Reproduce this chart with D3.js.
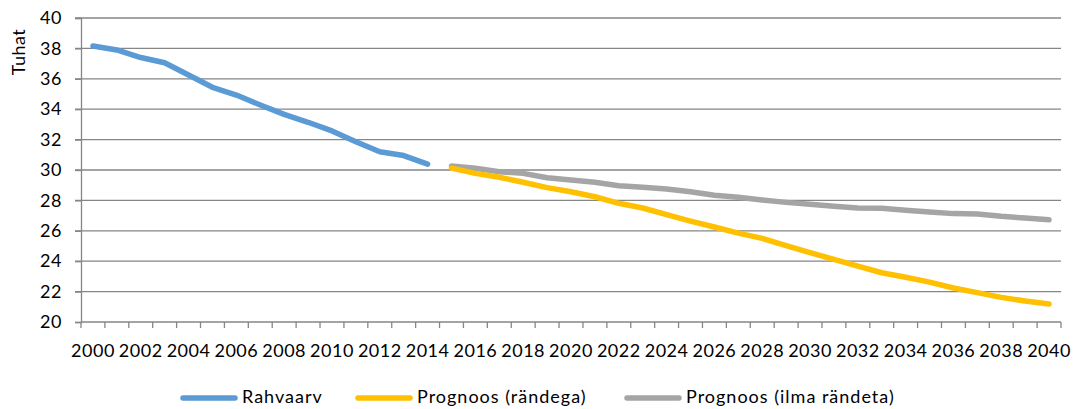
<!DOCTYPE html>
<html><head><meta charset="utf-8">
<script src="https://cdn.jsdelivr.net/npm/d3@7"></script>
<style>body{margin:0;background:#fff}svg{display:block}text{font-family:Lato,"Open Sans",sans-serif;fill:#000}</style>
</head><body>
<svg id="c" width="1075" height="409"></svg>
<script>
const years = d3.range(2000, 2041);
const yTicks = [20,22,24,26,28,30,32,34,36,38,40];
const xTickLabels = d3.range(2000, 2041, 2);
const rahvaarvYears = d3.range(2000, 2015);
const rahvaarv = [38.16,37.9,37.4,37.06,36.25,35.44,34.93,34.28,33.66,33.14,32.57,31.86,31.2,30.95,30.39];
const progYears = d3.range(2015, 2041);
const prognoosRandega = [30.12,29.78,29.52,29.19,28.84,28.57,28.24,27.81,27.5,27.06,26.64,26.25,25.85,25.5,25.02,24.56,24.12,23.68,23.24,22.94,22.62,22.24,21.93,21.62,21.38,21.18];
const prognoosIlma = [30.26,30.11,29.89,29.78,29.49,29.34,29.19,28.97,28.86,28.75,28.57,28.34,28.2,28.03,27.87,27.74,27.61,27.5,27.48,27.35,27.24,27.13,27.1,26.95,26.84,26.73];
const seriesNames = ["Rahvaarv","Prognoos (rändega)","Prognoos (ilma rändeta)"];
const colors = ["#5B9BD5","#FFC000","#A5A5A5"];

const svg = d3.select("#c");
const L=81, R=1061, T=18, B=322;
const FS = "18px";
const x = d3.scaleBand().domain(years).range([L,R]);
const y = d3.scaleLinear().domain([20,40]).range([B,T]);
const grid = "#868686";

// gridlines
svg.append("g").selectAll("line").data(yTicks.filter(v=>v>20)).join("line")
  .attr("x1",L-6).attr("x2",R).attr("y1",d=>y(d)).attr("y2",d=>y(d))
  .attr("stroke",grid).attr("stroke-width",1.3);

// y axis
const ya = svg.append("g").attr("transform",`translate(${L},0)`)
  .call(d3.axisLeft(y).tickValues(yTicks).tickSize(6).tickPadding(13));
ya.select(".domain").attr("stroke",grid).attr("stroke-width",1.3);
ya.selectAll(".tick line").attr("stroke",grid).attr("stroke-width",1.3);
ya.selectAll("text").style("font-size",FS).style("font-family","Lato").style("letter-spacing","0.5px");

// x axis
const xa = svg.append("g").attr("transform",`translate(0,${B})`)
  .call(d3.axisBottom(x).tickValues([]).tickSize(0));
xa.select(".domain").attr("stroke",grid).attr("stroke-width",1.3).attr("d",`M${L},0H${R}`);
xa.selectAll("line.bt").data(years.concat([null])).join("line").attr("class","bt")
  .attr("x1",(d,i)=>L+i*x.step()).attr("x2",(d,i)=>L+i*x.step())
  .attr("y1",0).attr("y2",6).attr("stroke",grid).attr("stroke-width",1.3);
xa.selectAll("text.xl").data(xTickLabels).join("text").attr("class","xl")
  .attr("x",d=>x(d)+x.bandwidth()/2).attr("y",35)
  .attr("text-anchor","middle").style("font-size",FS).style("letter-spacing","0.5px").text(d=>d);

// y title
svg.append("text").attr("transform","translate(25,52) rotate(-90)")
  .attr("text-anchor","middle").style("font-size",FS).style("letter-spacing","0.5px").text("Tuhat");

const line = d3.line().x(d=>x(d[0])+x.bandwidth()/2).y(d=>y(d[1]));
const data = [
  d3.zip(rahvaarvYears, rahvaarv),
  d3.zip(progYears, prognoosRandega),
  d3.zip(progYears, prognoosIlma)
];
const order = [0,2,1];
order.forEach(i=>{
  svg.append("path").datum(data[i]).attr("d",line)
    .attr("fill","none").attr("stroke",colors[i]).attr("stroke-width",5.5)
    .attr("stroke-linejoin","round").attr("stroke-linecap","round");
});

// legend
const legX = [183,358,627];
const lg = svg.append("g");
seriesNames.forEach((n,i)=>{
  lg.append("line").attr("x1",legX[i]).attr("x2",legX[i]+52).attr("y1",398).attr("y2",398)
    .attr("stroke",colors[i]).attr("stroke-width",5.5).attr("stroke-linecap","round");
  lg.append("text").attr("x",legX[i]+59).attr("y",403).style("font-size",FS)
    .style("letter-spacing","1px").text(n);
});
</script>
</body></html>
